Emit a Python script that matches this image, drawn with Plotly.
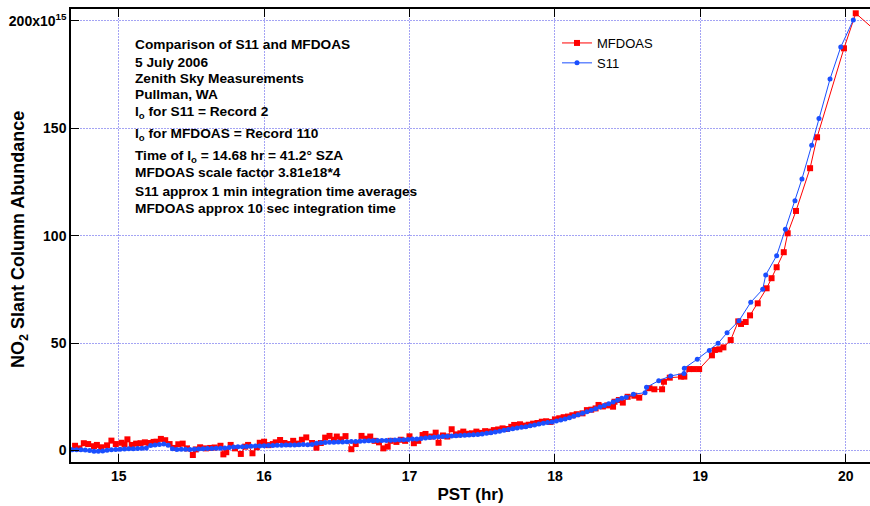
import plotly.graph_objects as go

# ---------------- data (units of 1e15 molec/cm^2) ----------------
s11_time = [
    14.68, 14.71, 14.74, 14.77, 14.80, 14.83, 14.86, 14.89, 14.92, 14.95,
    14.98, 15.01, 15.04, 15.07, 15.10, 15.13, 15.16, 15.19, 15.22, 15.25,
    15.28, 15.31, 15.34, 15.37, 15.40, 15.43, 15.46, 15.49, 15.52, 15.55,
    15.58, 15.61, 15.64, 15.67, 15.70, 15.73, 15.76, 15.79, 15.82, 15.85,
    15.88, 15.91, 15.94, 15.97, 16.00, 16.03, 16.06, 16.09, 16.12, 16.15,
    16.18, 16.21, 16.24, 16.27, 16.30, 16.33, 16.36, 16.39, 16.42, 16.45,
    16.48, 16.51, 16.54, 16.57, 16.60, 16.63, 16.66, 16.69, 16.72, 16.75,
    16.78, 16.81, 16.84, 16.87, 16.90, 16.93, 16.96, 16.99, 17.02, 17.05,
    17.08, 17.11, 17.14, 17.17, 17.20, 17.23, 17.26, 17.29, 17.32, 17.35,
    17.38, 17.41, 17.44, 17.47, 17.50, 17.53, 17.56, 17.59, 17.62, 17.65,
    17.68, 17.71, 17.74, 17.77, 17.80, 17.83, 17.86, 17.89, 17.92, 17.95,
    17.98, 18.01, 18.04, 18.07, 18.10, 18.13, 18.16, 18.19, 18.22, 18.25,
    18.28, 18.31, 18.34, 18.37, 18.40, 18.43, 18.46, 18.49, 18.54, 18.62,
    18.63, 18.714, 18.796, 18.888, 18.89, 18.979, 19.062, 19.122, 19.184, 19.266,
    19.347, 19.429, 19.45, 19.525, 19.585, 19.651, 19.699, 19.766, 19.816, 19.892,
    19.966, 20.052,
]
s11_scd = [
    0.4, 0.3, 0.4, 0.2, 0.0, -0.3, -0.4, -0.2, 0.1, 0.3,
    0.5, 0.6, 0.7, 0.8, 0.8, 0.9, 1.0, 1.2, 2.3, 2.6,
    2.8, 3.0, 2.4, 0.8, 0.5, 0.6, 0.6, 0.5, 0.6, 0.7,
    0.8, 0.9, 0.9, 1.0, 1.1, 1.2, 1.4, 1.6, 1.7, 1.8,
    1.9, 2.0, 2.1, 2.1, 2.2, 2.3, 2.3, 2.4, 2.5, 2.6,
    2.6, 2.6, 2.7, 2.8, 2.7, 2.8, 3.4, 3.6, 3.7, 3.8,
    3.9, 4.0, 4.0, 4.1, 4.2, 4.2, 4.3, 4.4, 4.5, 4.5,
    4.6, 4.6, 4.7, 4.8, 4.9, 5.0, 5.0, 5.1, 5.3, 5.4,
    5.6, 5.8, 6.0, 6.2, 6.4, 6.5, 6.6, 6.8, 6.9, 7.0,
    7.1, 7.2, 7.3, 7.5, 7.7, 8.0, 8.3, 8.6, 9.0, 9.4,
    9.8, 10.1, 10.5, 10.8, 11.1, 11.5, 11.9, 12.3, 12.7, 13.0,
    13.3, 13.7, 14.2, 14.7, 15.3, 15.9, 16.6, 17.3, 18.0, 18.7,
    19.4, 20.2, 21.0, 21.8, 22.6, 23.4, 24.3, 24.8, 26.2, 26.9,
    29.4, 32.5, 34.7, 35.9, 38.3, 42.5, 46.6, 49.9, 54.8, 60.4,
    69.0, 75.0, 81.7, 90.7, 103.0, 116.3, 126.4, 142.1, 154.5, 172.9,
    187.8, 200.4,
]

mfdoas_time = [
    14.70, 14.73, 14.76, 14.79, 14.83, 14.85, 14.88, 14.92, 14.95, 14.98,
    15.02, 15.04, 15.06, 15.09, 15.12, 15.15, 15.18, 15.21, 15.24, 15.26,
    15.29, 15.32, 15.35, 15.38, 15.41, 15.44, 15.47, 15.51, 15.53, 15.56,
    15.60, 15.63, 15.66, 15.70, 15.72, 15.74, 15.77, 15.80, 15.84, 15.87,
    15.89, 15.92, 15.95, 15.97, 16.00, 16.03, 16.06, 16.08, 16.11, 16.14,
    16.17, 16.20, 16.23, 16.26, 16.29, 16.33, 16.36, 16.39, 16.42, 16.45,
    16.48, 16.50, 16.53, 16.56, 16.60, 16.63, 16.67, 16.70, 16.73, 16.76,
    16.79, 16.82, 16.85, 16.87, 16.91, 16.94, 16.97, 17.00, 17.03, 17.06,
    17.09, 17.11, 17.15, 17.18, 17.20, 17.23, 17.26, 17.29, 17.32, 17.35,
    17.37, 17.40, 17.43, 17.46, 17.49, 17.52, 17.55, 17.58, 17.61, 17.64,
    17.67, 17.70, 17.72, 17.76, 17.79, 17.82, 17.85, 17.88, 17.91, 17.94,
    17.97, 18.00, 18.03, 18.06, 18.09, 18.12, 18.15, 18.19, 18.22, 18.25,
    18.28, 18.30, 18.33, 18.36, 18.40, 18.41, 18.44, 18.467, 18.50, 18.546,
    18.58, 18.65, 18.684, 18.737, 18.75, 18.79, 18.867, 18.89, 18.924, 18.955,
    18.992, 19.08, 19.10, 19.131, 19.159, 19.209, 19.261, 19.28, 19.312, 19.342,
    19.395, 19.456, 19.49, 19.525, 19.574, 19.601, 19.658, 19.755, 19.803, 19.988,
    20.069, 20.25,
]
mfdoas_scd = [
    2.2, 1.0, 3.4, 3.0, 2.0, 2.6, 1.5, 2.4, 4.6, 3.0,
    3.6, 2.8, 5.2, 2.6, 3.2, 3.4, 3.8, 3.5, 4.0, 4.1,
    5.4, 4.8, 3.0, 1.2, 2.9, 3.2, 1.0, -2.1, 0.5, 1.5,
    1.0, 1.2, 1.4, 2.2, -1.8, -0.8, 2.6, 1.0, -1.6, 1.8,
    2.6, -1.3, 1.5, 3.6, 4.1, 2.5, 3.0, 3.8, 4.9, 3.5,
    3.0, 4.5, 3.2, 5.0, 6.1, 3.5, 1.3, 3.5, 6.0, 6.8,
    5.0, 6.5, 5.2, 6.7, 0.6, 3.0, 6.8, 5.5, 6.5, 4.5,
    3.8, 1.0, 1.8, 4.5, 4.0, 5.0, 4.5, 6.6, 3.4, 4.5,
    7.2, 7.7, 6.5, 8.3, 3.6, 7.0, 6.5, 9.9, 7.5, 8.0,
    8.8, 7.8, 8.0, 8.8, 8.2, 9.0, 8.8, 9.5, 9.8, 10.3,
    10.0, 11.0, 11.9, 12.2, 11.6, 12.0, 12.5, 12.8, 13.4, 13.6,
    13.3, 14.5, 15.0, 15.5, 15.8, 16.4, 16.9, 17.3, 18.8, 19.0,
    19.6, 21.2, 20.5, 21.0, 20.4, 22.7, 23.5, 22.3, 25.0, 25.5,
    24.6, 29.0, 28.5, 28.5, 32.0, 33.9, 34.4, 34.4, 37.9, 37.9,
    37.9, 44.3, 46.8, 47.1, 48.0, 51.4, 60.1, 58.9, 59.8, 62.9,
    68.5, 75.5, 80.2, 85.3, 92.3, 101.1, 111.5, 131.4, 145.8, 187.2,
    203.5, 192.7,
]

y_tick_vals = [0, 50, 100, 150, 200]
y_tick_text = ["0", "50", "100", "150", "200x10<sup>15</sup>"]
x_tick_vals = [15, 16, 17, 18, 19, 20]
y_title = "NO<sub>2</sub> Slant Column Abundance"
x_title = "PST (hr)"

notes = [
    "Comparison of S11 and MFDOAS",
    "5 July 2006",
    "Zenith Sky Measurements",
    "Pullman, WA",
    "I<sub>o</sub> for S11 = Record 2",
    "I<sub>o</sub> for MFDOAS = Record 110",
    "Time of I<sub>o</sub> = 14.68 hr = 41.2° SZA",
    "MFDOAS scale factor 3.81e18*4",
    "S11 approx 1 min integration time averages",
    "MFDOAS approx 10 sec integration time",
]
note_px_y = [45, 62, 78, 95, 113, 134, 156, 173, 192, 208]

# ---------------- figure ----------------
W, H = 870, 506
ML, MR, MT, MB = 71, 0, 9, 44
PW = W - ML - MR
PH = H - MT - MB
FONT = "Arial, Liberation Sans, sans-serif"
RED = "#ff0000"
BLUE = "#1a4fff"
GRID = "#a4a4f4"

fig = go.Figure()
fig.add_trace(go.Scatter(
    x=mfdoas_time, y=mfdoas_scd, name="MFDOAS", mode="lines+markers",
    line=dict(color=RED, width=1),
    marker=dict(symbol="square", size=6, color=RED),
))
fig.add_trace(go.Scatter(
    x=s11_time, y=s11_scd, name="S11", mode="lines+markers",
    line=dict(color=BLUE, width=1),
    marker=dict(symbol="circle", size=5, color=BLUE),
))

for txt, py in zip(notes, note_px_y):
    fig.add_annotation(
        text=txt, xref="paper", yref="paper",
        x=(133 - ML) / PW, y=(H - MB - py) / PH,
        xanchor="left", yanchor="middle", showarrow=False, align="left",
        font=dict(family=FONT, size=13.7, color="black", weight="bold"),
    )

# y-axis title placed as a rotated annotation for exact positioning
fig.add_annotation(
    text=y_title, xref="paper", yref="paper",
    x=(20 - ML) / PW, y=(H - MB - 240) / PH,
    xanchor="center", yanchor="middle", showarrow=False, textangle=-90,
    font=dict(family=FONT, size=18, color="black", weight="bold"),
)

fig.update_layout(
    width=W, height=H,
    margin=dict(l=ML, r=MR, t=MT, b=MB, pad=0),
    paper_bgcolor="white", plot_bgcolor="white",
    font=dict(family=FONT, color="black"),
    showlegend=True,
    legend=dict(
        x=(557 - ML) / PW, y=(H - MB - 28) / PH,
        xanchor="left", yanchor="top",
        bgcolor="rgba(0,0,0,0)", borderwidth=0,
        font=dict(family=FONT, size=13, color="black"),
        tracegroupgap=0, itemwidth=30,
    ),
    xaxis=dict(
        range=[14.672, 20.167], automargin=False,
        tickvals=x_tick_vals,
        ticks="inside", ticklen=8, tickwidth=1, tickcolor="black",
        showline=True, linecolor="black", linewidth=1.5, mirror="ticks",
        showgrid=True, gridcolor=GRID, griddash="2px,1px", gridwidth=1,
        zeroline=False,
        tickfont=dict(family=FONT, size=14, color="black", weight="bold"),
        title=dict(text=x_title, standoff=6,
                   font=dict(family=FONT, size=17, color="black", weight="bold")),
    ),
    yaxis=dict(
        range=[-5.35, 205.5], automargin=False,
        tickvals=y_tick_vals, ticktext=y_tick_text,
        ticks="inside", ticklen=8, tickwidth=1, tickcolor="black",
        showline=True, linecolor="black", linewidth=1.5, mirror=False,
        showgrid=True, gridcolor=GRID, griddash="2px,1px", gridwidth=1,
        zeroline=False,
        tickfont=dict(family=FONT, size=14, color="black", weight="bold"),
    ),
)

fig.write_html("out.html")
